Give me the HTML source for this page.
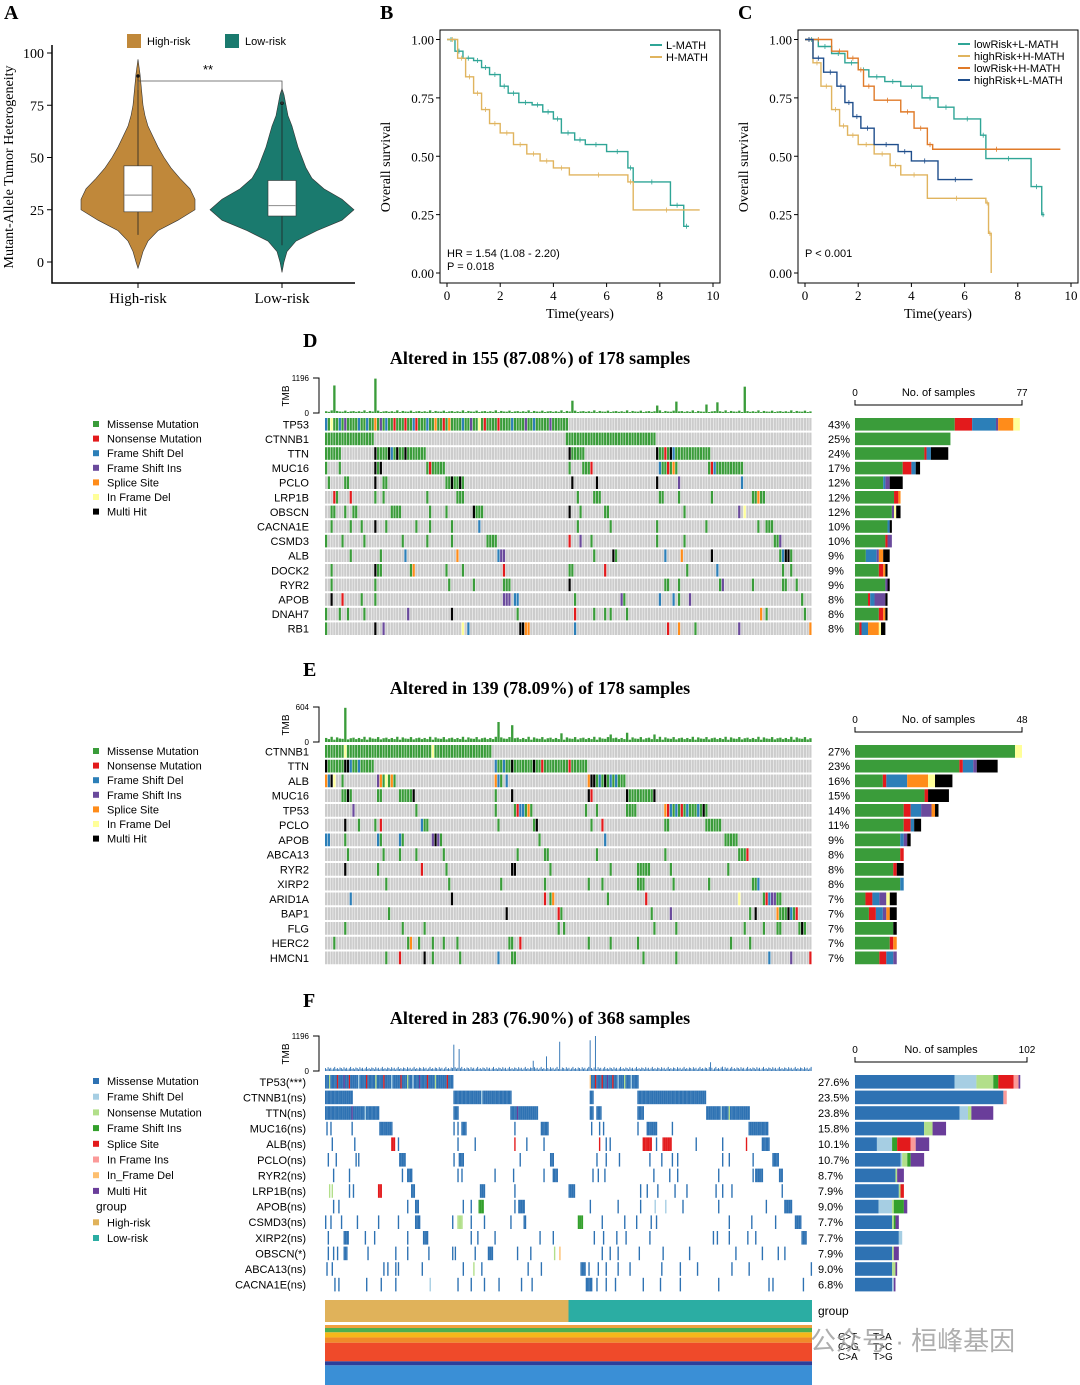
<!DOCTYPE html>
<html><head><meta charset="utf-8"><style>
html,body{margin:0;padding:0;background:#fff}
svg{display:block}
.s{font-family:"Liberation Serif",serif}
.a{font-family:"Liberation Sans",sans-serif}
</style></head><body>
<svg id="fig" width="1080" height="1385" viewBox="0 0 1080 1385" xmlns="http://www.w3.org/2000/svg"></svg>
<script>
// ---------- DATA ----------
const violinGroups=["High-risk","Low-risk"];
const violinHigh=[[-3,0],[0,2],[5,5],[10,10],[15,20],[20,40],[25,57],[30,57],[35,52],[40,42],[45,33],[50,26],[55,20],[60,15],[65,10],[70,7],[75,5],[80,4],[85,3],[90,2],[97,0]];
const violinLow=[[-5,0],[0,2],[5,5],[10,14],[15,35],[20,60],[25,72],[30,60],[35,42],[40,30],[45,24],[50,20],[55,16],[60,13],[65,10],[70,6],[75,4],[80,2],[83,0]];
const boxHigh=[24,32,46,13,88];
const boxLow=[22,27,39,8,75];
const vTicks=[0,25,50,75,100];
const kmTicksY=[0,0.25,0.5,0.75,1];
const kmTicksX=[0,2,4,6,8,10];
const kmB_L=[[0,1],[0.3,.95],[0.6,.92],[1,.91],[1.3,.88],[1.6,.85],[2,.8],[2.3,.77],[2.7,.73],[3.2,.72],[3.6,.69],[4,.66],[4.3,.6],[4.8,.57],[5.2,.55],[6,.52],[6.8,.45],[7.0,.39],[8.4,.29],[8.9,.2],[9.1,.2]];
const kmB_H=[[0,1],[0.4,.92],[0.7,.84],[1,.77],[1.3,.7],[1.6,.64],[2,.6],[2.5,.55],[3,.51],[3.5,.48],[4,.45],[4.6,.42],[6.8,.39],[7,.27],[9.5,.27]];
const kmC_LL=[[0,1],[0.5,.97],[1,.94],[1.5,.9],[2,.87],[2.4,.84],[3,.82],[3.6,.8],[4.4,.75],[5,.71],[5.6,.66],[6.6,.59],[6.8,.49],[8.5,.37],[8.9,.25],[9.0,.25]];
const kmC_HH=[[0,1],[0.3,.9],[0.6,.8],[1,.7],[1.3,.63],[1.6,.59],[2,.55],[2.6,.51],[3.2,.46],[3.6,.42],[4.6,.32],[6.8,.3],[6.9,.17],[7.0,0]];
const kmC_LH=[[0,1],[1,.95],[1.6,.92],[2,.87],[2.2,.8],[2.6,.74],[3.6,.69],[4.1,.62],[4.6,.55],[4.8,.53],[9.6,.53]];
const kmC_HL=[[0,1],[0.3,.92],[0.7,.86],[1.2,.8],[1.5,.73],[1.8,.67],[2.1,.62],[2.6,.55],[3.5,.52],[4,.48],[5,.4],[6.3,.4]];

const genesD=["TP53","CTNNB1","TTN","MUC16","PCLO","LRP1B","OBSCN","CACNA1E","CSMD3","ALB","DOCK2","RYR2","APOB","DNAH7","RB1"];
const pctD=["43%","25%","24%","17%","12%","12%","12%","10%","10%","9%","9%","9%","8%","8%","8%"];
const cellsD=[
"0-88 0b 2y 5b 7p 12b 15b 18o 20p 22b 25r 29r 32b 33r 37b 40o 43r 45o 50b 53p 56y 58r 63r 68b 73p 76b 82p",
"0-17 88-120",
"0-5 18-36 18k 23k 24b 26k 29k 89-94 89k 121-140 121k 124r 126k 127b",
"0 5 18-20 18k 20k 37-43 38r 89 94-97 97r 122-128 122b 125r 127o 140-152 141r 142b",
"1 7-8 18k 21-22 44-50 46k 49k 90k 99k 121k 129p 152b",
"3-4 3r 9r 18 21 37 48-50 92 98-100 122-123 129 141 156-160 158o",
"2-3 7 10-11 24-27 38 44 54k 55-57 89k 93 102-103 131 151p 153y",
"2 9 13 18k 22 33 38 46 56b 92 104 121 139 158 161-163",
"0 6 14 28 37 46 59-62 89r 93p 97 121 131 164-166 166p",
"9 20 29b 48o 63b 64-65p 98 105k 106 124b 130o 141k 166-170 167b 168k 169k",
"2 18k 19-20 31-32 32o 44 50 65r 89-90 102r 132 143b 167 170",
"2 18 45 54 65-67 89k 124-125 129 144-145 145p 156 167-168 172",
"2k 6r 13 18 65-67p 69-70b 91 108p 109 122b 127b 129 133p 174",
"0 5 8 14 30p 46k 70 91r 98 102 104 110 159o 161 175",
"0 18k 21p 50y 52b 71-72k 73-74o 91b 125r 129o 135 151p 177o"];
const barsD=[{g:46,r:8,b:11,p:1,o:7,y:3},{g:44},{g:32,r:1,b:2,k:8},{g:22,r:4,b:2,k:2},{g:13,b:1,p:2,k:6},{g:18,r:2,o:1},{g:17,p:1,y:1,k:2},{g:15,b:1,k:1},{g:14,r:1,p:2},{g:5,b:5,p:1,o:2,k:3},{g:11,r:2,o:1,k:1},{g:14,p:1,k:1},{g:6,r:1,b:2,p:5,k:1},{g:11,r:2,o:1,k:1},{g:2,r:1,b:3,o:5,y:1,k:2}];
const tmbSpikesD=[[3,941],[18,1175],[90,420],[121,255],[128,390],[139,290],[143,365],[153,900]];
const tmbBaseD=[60,40,90,30,70,50,45,80,35,55,65,40];

const genesE=["CTNNB1","TTN","ALB","MUC16","TP53","PCLO","APOB","ABCA13","RYR2","XIRP2","ARID1A","BAP1","FLG","HERC2","HMCN1"];
const pctE=["27%","23%","16%","15%","14%","11%","9%","8%","8%","8%","7%","7%","7%","7%","7%"];
const cellsE=[
"0-60 7y 39y",
"0-17 0k 7k 8k 9b 12b 62-95 62b 65b 68k 76k 79r 89r",
"0o 1b 2k 3y 6 19-25 19p 20o 22y 24o 62-64 62o 63b 66b 96-109 96o 97k 98k 100b 102k 104b 106b",
"6-9 8k 19-20 27-32 32k 62 68k 96-97 96k 97r 110k 111-120 120k",
"10p 33 62 69-75 70r 71b 72b 74o 95 99 110-113 124-139 124o 125r 126b 128b 130r 132b 136b 138k",
"7k 12 18 20r 35-37 35b 63 76-77 77k 97 101r 124-125 139-144",
"0-1b 7 19-20 19b 27-28 27b 39-42 39p 40k 41p 78 102b 146-150",
"8 21 27 33 43 70 80-81 99 124 151-154 154r",
"7k 19 35r 44 68-69k 82 104 114-118 126 147",
"22 45 64 80 96 101 114-116 127 140 156-158 158b",
"9b 46k 80r 82-83 83o 103 117r 151y 160-166 161r 162b 163p 164p",
"23 66k 85-86 85r 119 126p 155 157k 165-172 165o 169k 170b 172r",
"7 28 36 85 87 120 128 153 160 165-166 173-175 174k",
"3 30-31 31o 34 39 43 48 67-68 71r 96 104 114 148 155",
"22 27r 36k 39 49 63b 68-69 116 128 162b 170p 177r"];
const barsE=[{g:46,y:2},{g:30,r:1,b:3,p:1,k:6},{g:8,r:1,b:6,o:6,y:2,k:5},{g:20,r:1,k:6},{g:14,r:2,b:3,p:3,o:1,k:1},{g:14,r:2,b:1,k:2},{g:13,b:1,p:1,k:1},{g:13,r:1},{g:11,r:1,k:2},{g:13,b:1},{g:3,r:2,b:2,p:2,y:1,k:2},{g:4,r:2,b:2,p:1,o:1,k:2},{g:11,k:1},{g:10,r:1,o:1},{g:7,r:2,b:2,p:1}];
const tmbSpikesE=[[7,590],[63,345],[68,290],[86,150],[104,130],[110,160],[120,130]];
const tmbBaseE=[70,50,90,40,80,60,55,85,45,65,75,50];

const genesF=["TP53(***)","CTNNB1(ns)","TTN(ns)","MUC16(ns)","ALB(ns)","PCLO(ns)","RYR2(ns)","LRP1B(ns)","APOB(ns)","CSMD3(ns)","XIRP2(ns)","OBSCN(*)","ABCA13(ns)","CACNA1E(ns)"];
const pctF=["27.6%","23.5%","23.8%","15.8%","10.1%","10.7%","8.7%","7.9%","9.0%","7.7%","7.7%","7.9%","9.0%","6.8%"];
const cellsF=[
"0-96 3n 9s 14x 18s 25l 31s 38n 44s 50l 57s 62n 66l 71x 77s 83n 92s 200-236 200d 204s 209s 213x 217s 221l 226n 231l",
"0-20 97-140 118l 200-202 236-287",
"0-40 20x 30l 97-100 140-160 145x 200-202 205-208 236-240 288-320 299l 305n",
"1 4 20 41-50 97 100 103-106 143 163-168 201 207 210 236 243-250 262 320-334",
"5 22 50-52s 55 100 113 143s 152 165 207s 212 215 240-246s 250 255-261s 280 300 318s 330-335",
"2 8 23 25 56-60 97 101-104 147 170-172 205 212 222 245 254 262 266 300 305 323 338-342",
"6 18 58 62-65 100 103 128 142 165 172-175 202 206 211 248 260 266 297 323 325-330 343-345",
"3n 5n 18 21 40-42s 65-67 117-120 143 184-188 238 243 251 264 273 295 300 307 345",
"6 10 62 68-70 104 110 116-119f 143 146-150 200 221 238 249l 257l 270 297 333 347-352",
"0 4 12 24 40 55 68-71 96 100-103n 110 120 140 150 151 191-194f 209 226 235 246 250 305 322 340 355-359",
"2 14-17 30 37 62 74-77 110 115 128 162 172 203 210 220 227 245 293 296 305 319 325 360-363",
"2 6 9 14-16 32 53 62 78 96 98 113 123-126 145 155 173n 177d 209 215 221 237 255 275 310 330 342 347",
"1 5 44 47 53 55 73 104 112n 118 153 163 193-196 199 206 212 221 230 254 268 281 307 320 367",
"7 10 31 42 53 79l 100 110 120 131 148 156 197-201 205 212 219 240 253 268 297 335 338 361"];
const barsF=[{m:59,l:13,n:10,f:3,s:9,i:3,x:1},{m:88,i:2},{m:62,l:5,n:2,x:13},{m:41,n:5,x:8},{m:13,l:9,f:3,s:8,i:3,x:8},{m:27,l:1,n:3,f:2,x:8},{m:24,n:1,x:4},{m:26,n:1,s:2},{m:14,l:8,n:1,f:6,x:2},{m:22,n:1,f:1,x:2},{m:26,l:2},{m:22,n:1,x:3},{m:22,n:2,x:1},{m:22,l:1,x:1}];
const tmbSpikesF=[[97,900],[101,750],[157,350],[167,500],[177,1000],[200,1050],[204,1196],[291,300],[300,150]];
const tmbBaseF=[100,60,130,80,110,50,90,140,70,100,60,120];
const groupF=["High-risk","Low-risk"];
const groupSizeF=[184,184];
const spectrumClasses=["C>A","C>G","C>T","T>A","T>C","T>G"];
const spectrumShare=[0.34,0.07,0.32,0.09,0.09,0.09];

// ---------- HELPERS ----------
const NS="http://www.w3.org/2000/svg";
const svg=document.getElementById('fig');
function E(tag,at,par){const e=document.createElementNS(NS,tag);for(const k in at)e.setAttribute(k,at[k]);(par||svg).appendChild(e);return e;}
function T(x,y,s,at,cls){const e=E('text',Object.assign({x:x,y:y},at||{}));e.setAttribute('class',cls||'a');e.textContent=s;return e;}

// ---------- PANEL A ----------
const vy=v=>262-v*2.09;
T(4,19,'A',{'font-size':20,'font-weight':'bold'},'s');
let ax=E('path',{d:'M52,45 V283 H355',stroke:'#000','stroke-width':1.5,fill:'none'});

vTicks.forEach(v=>{E('line',{x1:47,x2:52,y1:vy(v),y2:vy(v),stroke:'#000'});
 const t=T(44,vy(v)+5,String(v),{'text-anchor':'end','font-size':14},'s');});
let yl=T(0,0,'Mutant-Allele Tumor Heterogeneity',{'font-size':14,'text-anchor':'middle',transform:'translate(13,167) rotate(-90)'},'s');

const vCenters=[138,282],vCols=['#c0883a','#1a7a6e'];
[violinHigh,violinLow].forEach((prof,i)=>{
 const cx=vCenters[i];let d='M'+cx+','+vy(prof[0][0]);
 prof.forEach(p=>d+=' L'+(cx+p[1])+','+vy(p[0]));
 prof.slice().reverse().forEach(p=>d+=' L'+(cx-p[1])+','+vy(p[0]));
 const v=E('path',{d:d+'Z',fill:vCols[i],stroke:'#333','stroke-width':0.6});
 
 const b=[boxHigh,boxLow][i];
 E('line',{x1:cx,x2:cx,y1:vy(b[4]),y2:vy(b[3]),stroke:'#222','stroke-width':0.8});
 E('circle',{cx:cx,cy:vy(b[4]+1),r:1.8,fill:'#111'});
 const bx=E('rect',{x:cx-14,y:vy(b[2]),width:28,height:vy(b[0])-vy(b[2]),fill:'#fff',stroke:'#333','stroke-width':0.6});
 
 E('line',{x1:cx-14,x2:cx+14,y1:vy(b[1]),y2:vy(b[1]),stroke:'#999','stroke-width':1.2});
 E('line',{x1:cx,x2:cx,y1:283,y2:288,stroke:'#000'});
 const xl=T(cx,303,violinGroups[i],{'text-anchor':'middle','font-size':15},'s');
 const lg=E('rect',{x:[127,225][i],y:34,width:14,height:14,fill:vCols[i]});
 const lt=T([147,245][i],45,violinGroups[i],{'font-size':11});
});
E('path',{d:'M138,90 V81 H282 V104',stroke:'#555',fill:'none','stroke-width':0.8});
T(208,74,'**',{'text-anchor':'middle','font-size':13});

// ---------- KM ----------
function km(ox,label,curves,cols,names,legX,legY,notes){
 const x0=ox+7,x1=ox+273,kx=t=>x0+t*(x1-x0)/10,ky=s=>273-s*233.5;
 T(ox-60,19,label,{'font-size':20,'font-weight':'bold'},'s');
 const fr=E('rect',{x:ox,y:30,width:280,height:253,fill:'none',stroke:'#000','stroke-width':1});
 
 kmTicksY.forEach(s=>{E('line',{x1:ox-4,x2:ox,y1:ky(s),y2:ky(s),stroke:'#000'});
  const t=T(ox-6,ky(s)+5,s.toFixed(2),{'text-anchor':'end','font-size':13},'s');});
 kmTicksX.forEach(t=>{E('line',{x1:kx(t),x2:kx(t),y1:283,y2:287,stroke:'#000'});
  const e=T(kx(t),300,String(t),{'text-anchor':'middle','font-size':13},'s');});
 const xt=T(ox+140,318,'Time(years)',{'text-anchor':'middle','font-size':14},'s');
 const yt=T(0,0,'Overall survival',{'text-anchor':'middle','font-size':14,transform:'translate('+(ox-50)+',167) rotate(-90)'},'s');
 curves.forEach((c,i)=>{let d='M'+kx(c[0][0])+','+ky(c[0][1]);
  for(let j=1;j<c.length;j++){d+=' H'+kx(c[j][0])+' V'+ky(c[j][1]);}
  const p=E('path',{d:d,fill:'none',stroke:cols[i],'stroke-width':1.4});
  
  for(let j=1;j<c.length;j++){const cx=(kx(c[j-1][0])+kx(c[j][0]))/2;E('line',{x1:cx,x2:cx,y1:ky(c[j-1][1])-2.5,y2:ky(c[j-1][1])+2.5,stroke:cols[i],'stroke-width':0.8});}
  E('line',{x1:legX,x2:legX+12,y1:legY+i*12,y2:legY+i*12,stroke:cols[i],'stroke-width':2});
  const lt=T(legX+16,legY+i*12+4,names[i],{'font-size':11});
 });
 notes.forEach((n,i)=>{const e=T(ox+7,257+i*13,n,{'font-size':11});});
}
km(440,'B',[kmB_L,kmB_H],['#2fa596','#e0b45e'],['L-MATH','H-MATH'],650,45,['HR = 1.54 (1.08 - 2.20)','P = 0.018']);
km(798,'C',[kmC_LL,kmC_HH,kmC_LH,kmC_HL],['#2fa596','#e0b45e','#e07a28','#1f4e8c'],['lowRisk+L-MATH','highRisk+H-MATH','lowRisk+H-MATH','highRisk+L-MATH'],958,44,['P < 0.001']);

// ---------- ONCOPLOTS ----------
const colDE={g:'#3a9c3a',r:'#e31a1c',b:'#2c7fb8',p:'#6a4a9c',o:'#ff8c1a',y:'#ffff99',k:'#000000'};
const colF={m:'#2e72b3',l:'#a6cee3',n:'#b2df8a',f:'#33a02c',s:'#e31a1c',i:'#fb9a99',d:'#fdbf6f',x:'#6a3d9a'};
function parse(str,def){const out={};str.split(' ').forEach(tok=>{const m=tok.match(/^(\d+)(?:-(\d+))?([a-z]?)$/);if(!m)return;
 const a=+m[1],b=m[2]?+m[2]:a,t=m[3]||def;for(let i=a;i<=b;i++)out[i]=t;});return out;}
function onco(o){
 const {letter,ly,title,ty,n,genes,pct,cells,bars,cols,def,top,rowH,gray,tmbMax,spikes,base,tmbTop,barMax,legend,legY,legStep,pctX,barColOrder}=o;
 const x0=325,x1=812,w=(x1-x0)/n;
 T(303,ly,letter,{'font-size':20,'font-weight':'bold'},'s');
 const tt=T(540,ty,title,{'text-anchor':'middle','font-size':18,'font-weight':'bold'},'s');
 const tb=tmbTop+35;
 E('path',{d:'M313,'+tmbTop+' H319 V'+tb+' H313',stroke:'#000',fill:'none','stroke-width':1});
 T(309,tmbTop+3,String(tmbMax),{'text-anchor':'end','font-size':8});T(309,tb+3,'0',{'text-anchor':'end','font-size':8});
 const tl=T(0,0,'TMB',{'text-anchor':'middle','font-size':10,transform:'translate(289,'+(tmbTop+18)+') rotate(-90)'});
 const sp={};spikes.forEach(s=>sp[s[0]]=s[1]);
 for(let i=0;i<n;i++){const v=sp[i]!==undefined?sp[i]:base[i%base.length];const h=v/tmbMax*35;
  const r=E('rect',{x:x0+i*w,y:tb-h,width:Math.max(w-0.4,0.8),height:h,fill:cols[def]});}
 genes.forEach((g,gi)=>{
  const y=top+gi*rowH;
  const lab=T(gray?309:306,y+rowH/2+4,g,{'text-anchor':'end','font-size':11});
  
  const mut=parse(cells[gi],def);
  for(let i=0;i<n;i++){const t=mut[i];if(!t&&!gray)continue;
   const r=E('rect',{x:x0+i*w,y:y+1,width:gray?w-0.5:w+0.05,height:rowH-2,fill:t?cols[t]:'#cccccc'});
   }
  const pt=T(pctX,y+rowH/2+4,pct[gi],{'font-size':11});
  let bx=855;const bs=(o.barEnd-855)/barMax;
  barColOrder.forEach(k=>{const c=bars[gi][k];if(!c)return;
   const r=E('rect',{x:bx,y:y+1,width:c*bs,height:rowH-2,fill:cols[k]});bx+=c*bs;});
 });
 const ay=top-12;
 E('path',{d:'M855,'+(ay-5)+' V'+ay+' H'+o.barEnd+' V'+(ay-5),stroke:'#000',fill:'none'});
 T(855,ay-9,'0',{'text-anchor':'middle','font-size':10});T(o.barEnd,ay-9,String(barMax),{'text-anchor':'middle','font-size':10});
 const bt=T((855+o.barEnd)/2,ay-9,'No. of samples',{'text-anchor':'middle','font-size':11});
 legend.forEach((l,i)=>{const y=legY+i*legStep;
  if(l[0]===null){const h=T(96,y+4,l[1],{'font-size':12});return;}
  const s=E('rect',{x:93,y:y-3,width:6,height:6,fill:l[0]});
  const t=T(107,y+4,l[1],{'font-size':11});});
}
const legDE=[[colDE.g,'Missense Mutation'],[colDE.r,'Nonsense Mutation'],[colDE.b,'Frame Shift Del'],[colDE.p,'Frame Shift Ins'],[colDE.o,'Splice Site'],[colDE.y,'In Frame Del'],[colDE.k,'Multi Hit']];
const ordDE=['g','r','b','p','o','y','k'];
onco({letter:'D',ly:347,title:'Altered in 155 (87.08%) of 178 samples',ty:364,n:178,genes:genesD,pct:pctD,cells:cellsD,bars:barsD,cols:colDE,def:'g',top:417,rowH:14.6,gray:true,tmbMax:1196,spikes:tmbSpikesD,base:tmbBaseD,tmbTop:378,barMax:77,barEnd:1022,legend:legDE,legY:424,legStep:14.6,pctX:828,barColOrder:ordDE});
onco({letter:'E',ly:676,title:'Altered in 139 (78.09%) of 178 samples',ty:694,n:178,genes:genesE,pct:pctE,cells:cellsE,bars:barsE,cols:colDE,def:'g',top:744,rowH:14.75,gray:true,tmbMax:604,spikes:tmbSpikesE,base:tmbBaseE,tmbTop:707,barMax:48,barEnd:1022,legend:legDE,legY:751,legStep:14.6,pctX:828,barColOrder:ordDE});
const legF=[[colF.m,'Missense Mutation'],[colF.l,'Frame Shift Del'],[colF.n,'Nonsense Mutation'],[colF.f,'Frame Shift Ins'],[colF.s,'Splice Site'],[colF.i,'In Frame Ins'],[colF.d,'In_Frame Del'],[colF.x,'Multi Hit'],[null,'group'],['#e0b25a','High-risk'],['#2bada3','Low-risk']];
onco({letter:'F',ly:1007,title:'Altered in 283 (76.90%) of 368 samples',ty:1024,n:368,genes:genesF,pct:pctF,cells:cellsF,bars:barsF,cols:colF,def:'m',top:1074,rowH:15.6,gray:false,tmbMax:1196,spikes:tmbSpikesF,base:tmbBaseF,tmbTop:1036,barMax:102,barEnd:1027,legend:legF,legY:1081,legStep:15.7,pctX:818,barColOrder:['m','l','n','f','s','i','d','x']});
{const w=487/368;let gx=325;groupF.forEach((g,i)=>{const r=E('rect',{x:gx,y:1300,width:groupSizeF[i]*w,height:22,fill:['#e0b25a','#2bada3'][i]});
 gx+=groupSizeF[i]*w;});
 const gl=T(818,1315,'group',{'font-size':12});}
{const sc=['#3a8fd6','#2a3f9a','#ef4a2a','#f08a2a','#f5b81a','#4caf50'];let yb=1385;
 spectrumShare.forEach((s,i)=>{const h=s*58;const r=E('rect',{x:325,y:yb-h,width:487,height:h,fill:sc[i]});
  yb-=h;});
 E('rect',{x:325,y:1325,width:487,height:3,fill:'#f0a040'});
 const lab=[['C>T',838,1340],['T>A',873,1340],['C>G',838,1350],['T>C',873,1350],['C>A',838,1360],['T>G',873,1360]];
 lab.forEach(l=>{const t=T(l[1],l[2],l[0],{'font-size':10});});
 const wm=T(810,1350,'公众号 · 桓峰基因',{'font-size':26,fill:'#9a9a9a','fill-opacity':0.8},'a');
 wm.setAttribute('style','font-family:"Liberation Sans","Noto Sans CJK SC",sans-serif');}
</script>
</body></html>
